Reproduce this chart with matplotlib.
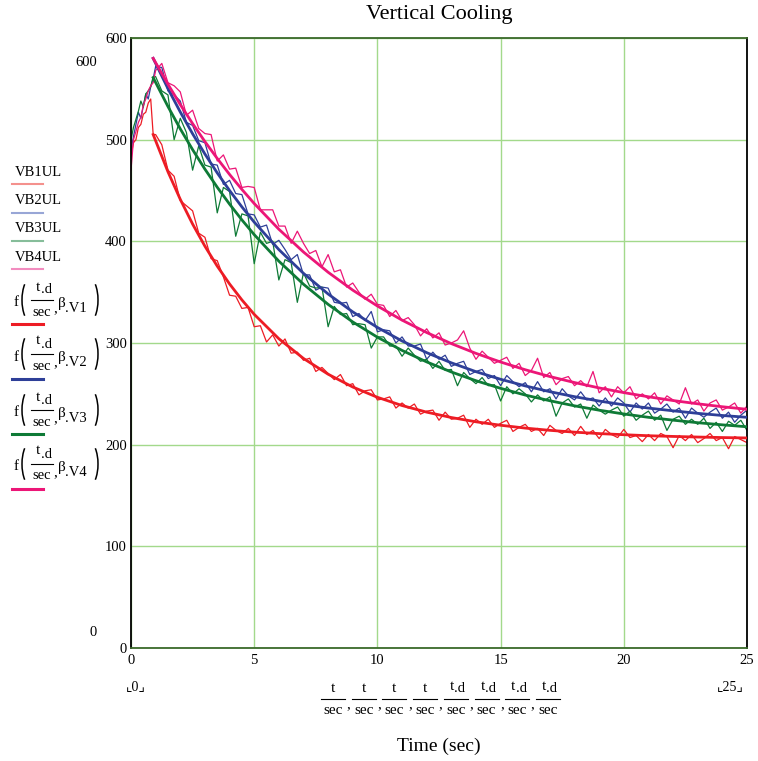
import numpy as np
import matplotlib
matplotlib.use('Agg')
import matplotlib.pyplot as plt
from matplotlib.lines import Line2D
from matplotlib.patches import Arc

plt.rcParams['font.family'] = ['Liberation Serif', 'DejaVu Sans']
plt.rcParams['mathtext.fontset'] = 'custom'
plt.rcParams['mathtext.rm'] = 'Liberation Serif'
plt.rcParams['mathtext.it'] = 'Liberation Serif:italic'
plt.rcParams['mathtext.bf'] = 'Liberation Serif:bold'

# sample times (sec): 0.1 s while heating, 0.25 s while cooling
time = np.concatenate((np.arange(0, 0.95, 0.1), np.arange(1.0, 25.01, 0.25)))

vb1 = [484, 497, 500, 512, 515, 525, 527, 536, 540, 505,
       505, 495, 470, 464, 440, 435, 430, 408, 404, 383,
       381, 365, 347, 346, 334, 335, 316, 317, 301, 308,
       297, 304, 290, 291, 283, 285, 272, 276, 270, 264,
       269, 258, 260, 249, 253, 254, 244, 245, 247, 236,
       241, 236, 240, 230, 233, 234, 224, 232, 225, 226,
       229, 217, 225, 220, 225, 217, 221, 224, 213, 217,
       220, 213, 216, 209, 219, 214, 211, 216, 209, 218,
       210, 214, 206, 215, 210, 207, 215, 207, 209, 203,
       210, 204, 211, 208, 197, 209, 204, 210, 202, 206,
       211, 204, 207, 196, 208, 205, 202]
vb2 = [490, 503, 515, 527, 521, 533, 545, 540, 552, 560,
       572, 571, 548, 544, 538, 517, 514, 499, 497, 476,
       475, 456, 460, 447, 446, 427, 426, 414, 416, 397,
       401, 392, 382, 387, 367, 367, 352, 355, 354, 340,
       339, 340, 326, 329, 322, 331, 311, 313, 312, 300,
       306, 297, 297, 299, 284, 291, 284, 288, 277, 280,
       282, 269, 272, 274, 265, 268, 258, 268, 262, 257,
       261, 252, 262, 252, 255, 245, 255, 248, 244, 252,
       244, 246, 238, 246, 238, 246, 241, 232, 241, 235,
       241, 231, 235, 240, 232, 236, 226, 236, 231, 227,
       232, 236, 226, 232, 222, 229, 234]
vb3 = [500, 512, 520, 528, 538, 532, 545, 548, 552, 562,
       562, 548, 544, 500, 521, 507, 470, 494, 475, 473,
       428, 453, 449, 405, 427, 425, 378, 409, 398, 400,
       362, 382, 379, 340, 369, 356, 354, 355, 316, 336,
       328, 329, 318, 319, 318, 295, 306, 306, 297, 297,
       287, 295, 288, 282, 284, 275, 282, 273, 274, 258,
       271, 265, 260, 266, 258, 259, 243, 257, 250, 255,
       250, 242, 249, 243, 247, 228, 241, 245, 237, 240,
       226, 239, 234, 230, 234, 237, 228, 233, 224, 229,
       233, 224, 229, 214, 225, 228, 220, 225, 220, 226,
       216, 222, 213, 223, 219, 224, 214]
vb4 = [470, 500, 508, 517, 522, 534, 540, 548, 553, 556,
       568, 575, 556, 553, 547, 524, 529, 511, 506, 505,
       479, 485, 471, 472, 453, 454, 453, 431, 431, 431,
       415, 415, 398, 410, 398, 388, 391, 375, 387, 370,
       372, 355, 359, 350, 343, 348, 338, 337, 326, 332,
       322, 325, 318, 307, 314, 305, 310, 298, 300, 303,
       312, 295, 284, 292, 286, 280, 283, 286, 275, 280,
       268, 273, 285, 266, 271, 259, 265, 267, 258, 263,
       257, 272, 251, 257, 247, 257, 251, 257, 245, 250,
       245, 251, 240, 248, 244, 240, 256, 240, 244, 233,
       241, 244, 234, 237, 241, 231, 238]

# fitted curves f(t.d/sec, beta.Vn)
fit_time = [0.9, 1.5, 2, 2.5, 3, 3.5, 4, 4.5, 5, 6, 7, 8, 9, 10, 11, 12, 13,
            14, 15, 16, 17, 18, 19, 20, 21, 22, 23, 24, 25]
fit_v1 = [505, 468.4, 441.3, 417.0, 395.2, 375.6, 358.1, 342.4, 328.2, 304.2,
          284.8, 269.3, 256.7, 246.6, 238.5, 232.0, 226.7, 222.5, 219.1, 216.3,
          214.1, 212.3, 210.9, 209.8, 208.8, 208.1, 207.5, 207.0, 206.6]
fit_v2 = [580, 550.2, 527.2, 505.8, 485.9, 467.3, 450.0, 433.9, 418.9, 391.9,
          368.5, 348.2, 330.6, 315.3, 302.0, 290.5, 280.5, 271.8, 264.3, 257.8,
          252.1, 247.2, 242.9, 239.2, 236.0, 233.3, 230.8, 228.7, 226.9]
fit_v3 = [561, 532.6, 510.6, 490.2, 471.0, 453.2, 436.6, 421.1, 406.6, 380.5,
          357.8, 338.0, 320.7, 305.7, 292.7, 281.4, 271.5, 262.9, 255.4, 248.8,
          243.2, 238.2, 233.9, 230.2, 226.9, 224.1, 221.6, 219.5, 217.6]
fit_v4 = [580, 554.5, 534.5, 515.8, 498.1, 481.5, 465.8, 451.1, 437.2, 411.9,
          389.5, 369.6, 352.0, 336.4, 322.5, 310.3, 299.4, 289.8, 281.3, 273.7,
          267.0, 261.1, 255.8, 251.2, 247.1, 243.4, 240.2, 237.3, 234.8]

data_labels = ['VB1UL', 'VB2UL', 'VB3UL', 'VB4UL']
fit_labels = ['V1', 'V2', 'V3', 'V4']
x_numerators = ['t', 't', 't', 't', 't.d', 't.d', 't.d', 't.d']
colors = ['#ed1c24', '#2e3f98', '#0e7a36', '#ec1677']
light_colors = ['#f4918d', '#98a6d6', '#86bd9a', '#f28cbf']

W, H = 758, 761
fig = plt.figure(figsize=(W / 100, H / 100), dpi=100)
ax = fig.add_axes([131 / W, 1 - 648 / H, 616 / W, 610 / H])

for vals, c in zip([vb1, vb2, vb3, vb4], colors):
    ax.plot(time, vals, color=c, lw=0.9, zorder=2)
for vals, c in zip([fit_v1, fit_v2, fit_v3, fit_v4], colors):
    ax.plot(fit_time, vals, color=c, lw=2.0, zorder=3)

ax.set_xlim(0, 25)
ax.set_ylim(0, 600)
ax.set_xticks([0, 5, 10, 15, 20, 25])
ax.set_yticks([0, 100, 200, 300, 400, 500, 600])
ax.grid(True, color='#a3d98b', lw=1.0)
ax.set_axisbelow(True)
ax.tick_params(length=0, labelsize=10.5, pad=4)
ax.tick_params(axis='y', pad=3)
for s in ['left', 'right']:
    ax.spines[s].set_color('black')
for s in ['top', 'bottom']:
    ax.spines[s].set_color('#3a6a2a')
for s in ax.spines.values():
    s.set_linewidth(1.3)


def fx(x):
    return x / W


def fy(y):
    return 1 - y / H


def ptext(x, y, s, size=11, ha='center'):
    fig.text(fx(x), fy(y), s, fontsize=size, ha=ha, va='center')


def hline(x0, x1, y, color='black', lw=0.8):
    fig.add_artist(Line2D([fx(x0), fx(x1)], [fy(y), fy(y)], color=color, lw=lw))


def paren(x, y, left=True):
    # tall bracket drawn as an elliptic arc
    if left:
        cx, t1, t2 = x + 10, 115, 245
    else:
        cx, t1, t2 = x - 10, -65, 65
    fig.add_artist(Arc((fx(cx), fy(y)), 20 / W, 46 / H, theta1=t1, theta2=t2,
                       transform=fig.transFigure, color='black', lw=1.1))


def numerator(cx, y, s):
    if s == 't':
        ptext(cx, y, 't')
    else:
        ptext(cx - 4, y - 2, 't')
        ptext(cx + 4, y + 1, '.d', size=10.5)


ptext(439, 15, 'Vertical Cooling', size=16)
ptext(439, 746, 'Time (sec)', size=14)

# axis limit labels
ptext(86, 63, '600', size=10.5)
ptext(93, 632, '0', size=10.5)
ptext(136, 687, '\u231e0\u231f', size=10)
ptext(730, 687, '\u231e25\u231f', size=10)

# x-axis expression: t/sec, ..., t.d/sec
for k, num in enumerate(x_numerators):
    cx = 333 + 30.7 * k
    numerator(cx, 688, num)
    hline(cx - 12, cx + 12, 699)
    ptext(cx, 711, 'sec', size=11)
    if k < 7:
        ptext(cx + 15.5, 705, ',', size=11)

# legend on the left
data_text_y = [173, 201, 229, 257]
data_line_y = [184, 213, 241, 269]
for lab, ty, ly, lc in zip(data_labels, data_text_y, data_line_y, light_colors):
    ptext(15, ty, lab, size=10.5, ha='left')
    hline(12, 43, ly, color=lc, lw=1.5)

fit_text_y = [300, 354, 410, 464]
fit_line_y = [324, 379, 434, 489]
for lab, yc, ly, c in zip(fit_labels, fit_text_y, fit_line_y, colors):
    ptext(14, yc + 3, 'f', size=11, ha='left')
    paren(22, yc, left=True)
    numerator(42, yc - 11, 't.d')
    hline(31, 53, yc)
    ptext(42, yc + 12, 'sec', size=10.5)
    ptext(55, yc + 9, ',', size=11)
    ptext(57, yc + 3, r'$\mathrm{\beta}$', size=11, ha='left')
    ptext(65, yc + 9, '.' + lab, size=10.5, ha='left')
    paren(98, yc, left=False)
    hline(12, 43, ly, color=c, lw=2.2)

fig.savefig('out.png', dpi=100)
